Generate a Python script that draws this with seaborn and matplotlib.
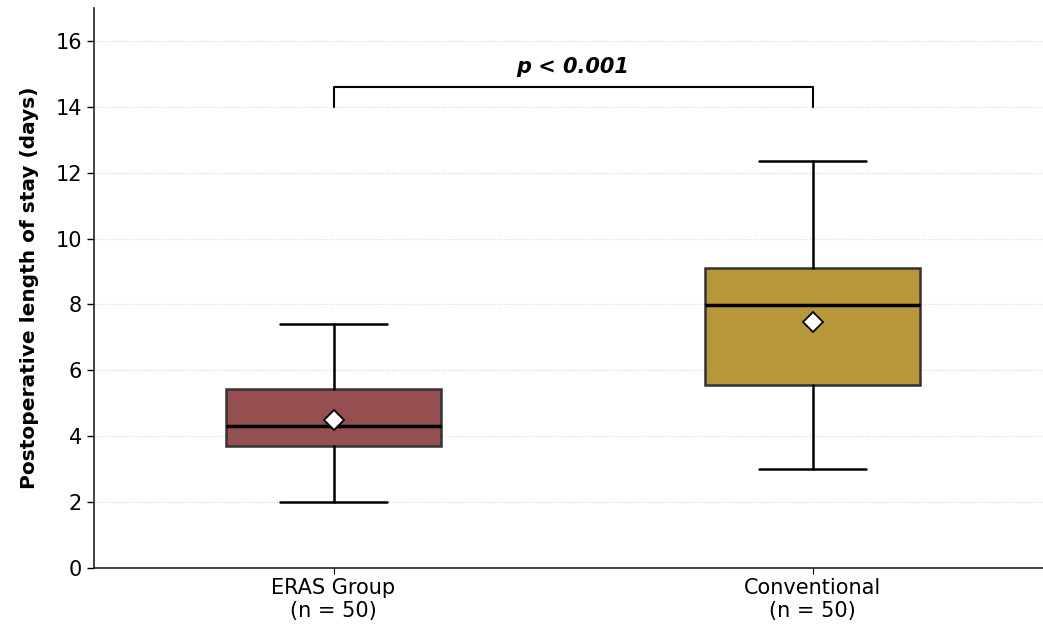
import matplotlib
matplotlib.use("Agg")
import matplotlib.pyplot as plt
import seaborn as sns

# summary values (days)
groups = ["ERAS Group\n(n = 50)", "Conventional\n(n = 50)"]
whisker_low = [2.0, 3.0]
q1 = [3.7, 5.57]
median = [4.3, 7.97]
q3 = [5.43, 9.1]
whisker_high = [7.4, 12.36]
means = [4.48, 7.47]
box_colors = ["#954F50", "#B8973A"]
p_label = "p < 0.001"

sns.set_style("ticks", {"text.color": "black", "axes.labelcolor": "black",
                        "xtick.color": "black", "ytick.color": "black"})
plt.rcParams['font.family'] = ['DejaVu Sans']

fig = plt.figure(figsize=(10.43, 6.24), dpi=100)
ax = fig.add_axes([0.0901, 0.0897, 0.9099, 0.8975])

stats = []
for i in range(len(groups)):
    stats.append({
        "whislo": whisker_low[i], "q1": q1[i], "med": median[i],
        "q3": q3[i], "whishi": whisker_high[i], "mean": means[i],
        "fliers": [], "label": groups[i],
    })

bp = ax.bxp(stats, positions=[0, 1], widths=0.45, capwidths=0.225,
            patch_artist=True, showmeans=True, showfliers=False,
            boxprops=dict(edgecolor="#333333", linewidth=1.8),
            medianprops=dict(color="black", linewidth=2.5),
            whiskerprops=dict(color="black", linewidth=1.8),
            capprops=dict(color="black", linewidth=1.8),
            meanprops=dict(marker="D", markerfacecolor="white",
                           markeredgecolor="black", markersize=10,
                           markeredgewidth=1.3))
for patch, c in zip(bp["boxes"], box_colors):
    patch.set_facecolor(c)

# significance bracket
ax.plot([0, 0, 1, 1], [14.0, 14.6, 14.6, 14.0], color="black", lw=1.5)
ax.text(0.5, 14.9, p_label, ha="center", va="bottom", fontsize=15,
        fontweight="bold", fontstyle="italic", color="black")

ax.set_xlim(-0.5, 1.481)
ax.set_ylim(0, 17)
ax.set_yticks(range(0, 17, 2))
ax.tick_params(axis="y", labelsize=15, length=5, width=1)
ax.tick_params(axis="x", labelsize=15, length=4, width=0.8, pad=3)
ax.set_ylabel("Postoperative length of stay (days)", fontsize=14.5,
              fontweight="bold", labelpad=12)
ax.yaxis.grid(True, linestyle=":", color="#cccccc", linewidth=0.8, alpha=0.8)
ax.set_axisbelow(True)
sns.despine(ax=ax)
for s in ["left", "bottom"]:
    ax.spines[s].set_linewidth(1.2)
    ax.spines[s].set_color("#222222")

fig.savefig("out.png", dpi=100)
